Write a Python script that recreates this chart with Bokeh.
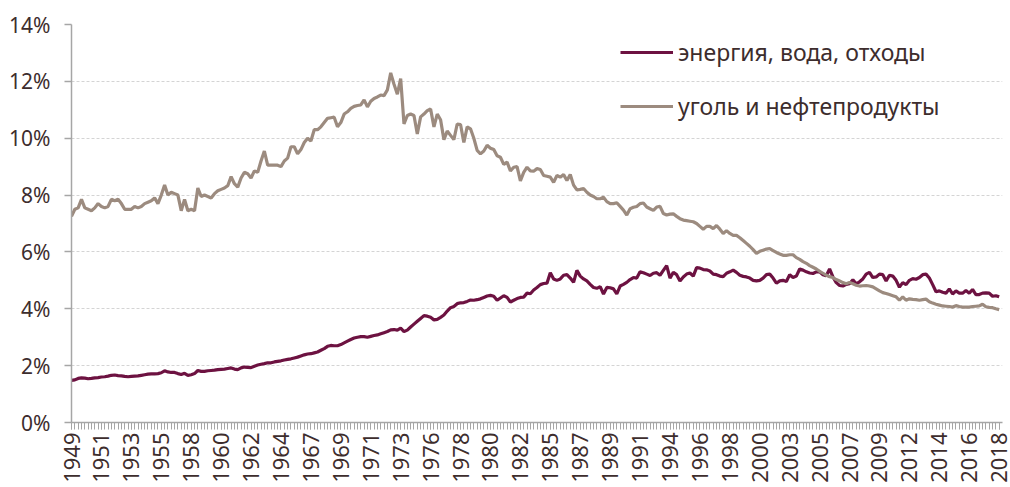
import math
from bokeh.plotting import figure
from bokeh.models import Range1d, FixedTicker, Legend, LegendItem
from bokeh.embed import file_html
from bokeh.resources import INLINE

# Quarterly data, 1949Q1 .. 2018Q4 (share, %)
energy_water_waste = [
    1.48, 1.5, 1.55, 1.57, 1.56, 1.54, 1.55, 1.57, 1.58, 1.6,
    1.61, 1.63, 1.66, 1.67, 1.65, 1.64, 1.62, 1.61, 1.62, 1.63,
    1.64, 1.66, 1.68, 1.7, 1.71, 1.71, 1.72, 1.75, 1.82, 1.78,
    1.76, 1.76, 1.72, 1.69, 1.73, 1.66, 1.68, 1.72, 1.83, 1.8,
    1.8, 1.82, 1.83, 1.84, 1.86, 1.87, 1.88, 1.9, 1.92, 1.88,
    1.86, 1.92, 1.95, 1.94, 1.93, 1.98, 2.02, 2.05, 2.07, 2.1,
    2.1, 2.13, 2.15, 2.17, 2.2, 2.22, 2.24, 2.27, 2.3, 2.34,
    2.38, 2.41, 2.42, 2.45, 2.48, 2.54, 2.6, 2.68, 2.71, 2.7,
    2.7, 2.74, 2.8, 2.86, 2.92, 2.97, 3.0, 3.02, 3.02, 3.0,
    3.03, 3.06, 3.08, 3.12, 3.16, 3.2, 3.26, 3.27, 3.25, 3.32,
    3.2, 3.25, 3.36, 3.46, 3.56, 3.66, 3.76, 3.74, 3.7, 3.61,
    3.63, 3.7, 3.78, 3.92, 4.04, 4.08, 4.18, 4.21, 4.22, 4.26,
    4.31, 4.3, 4.32, 4.35, 4.4, 4.45, 4.47, 4.44, 4.3, 4.38,
    4.46, 4.4, 4.24, 4.3, 4.36, 4.4, 4.41, 4.55, 4.53, 4.66,
    4.75, 4.85, 4.89, 4.9, 5.27, 5.05, 5.0, 5.05, 5.18, 5.2,
    5.08, 4.93, 5.35, 5.15, 5.05, 4.98, 4.86, 4.75, 4.72, 4.78,
    4.52, 4.75, 4.74, 4.7, 4.52, 4.8, 4.86, 4.93, 5.03, 5.1,
    5.08, 5.3, 5.27, 5.22, 5.17, 5.25, 5.27, 5.18, 5.35, 5.52,
    5.08, 5.28, 5.2, 4.98, 5.12, 5.22, 5.26, 5.15, 5.45, 5.43,
    5.38, 5.37, 5.33, 5.22, 5.2, 5.15, 5.13, 5.25, 5.3, 5.36,
    5.28, 5.18, 5.14, 5.12, 5.08, 5.0, 4.98, 5.0, 5.08, 5.2,
    5.22, 5.08, 4.9, 4.98, 5.0, 4.96, 5.2, 5.1, 5.15, 5.4,
    5.36, 5.3, 5.26, 5.24, 5.3, 5.3, 5.2, 5.16, 5.4, 5.12,
    4.92, 4.82, 4.8, 4.86, 4.88, 5.02, 4.88, 4.95, 5.05, 5.22,
    5.28, 5.1, 5.12, 5.22, 5.2, 4.98, 5.18, 5.15, 5.0, 4.76,
    4.92, 4.85, 5.0, 5.06, 5.04, 5.1, 5.2, 5.22, 5.08, 4.85,
    4.6, 4.63, 4.58, 4.55, 4.7, 4.52, 4.63, 4.55, 4.55, 4.64,
    4.55, 4.68, 4.5, 4.5, 4.55, 4.56, 4.55, 4.44, 4.46, 4.42,
]

coal_petroleum = [
    7.25, 7.5, 7.55, 7.85, 7.55, 7.5, 7.45, 7.55, 7.7, 7.6,
    7.55, 7.6, 7.85, 7.8, 7.85, 7.7, 7.5, 7.5, 7.5, 7.6,
    7.55, 7.6, 7.7, 7.75, 7.8, 7.9, 7.7, 8.0, 8.35, 8.0,
    8.1, 8.05, 8.0, 7.45, 7.85, 7.45, 7.5, 7.45, 8.25, 7.95,
    8.0, 7.95, 7.9, 8.05, 8.15, 8.2, 8.25, 8.33, 8.65, 8.4,
    8.28, 8.6, 8.8, 8.75, 8.6, 8.85, 8.8, 9.2, 9.55, 9.05,
    9.05, 9.05, 9.05, 9.0, 9.2, 9.3, 9.7, 9.7, 9.45, 9.6,
    9.85, 10.0, 9.9, 10.3, 10.3, 10.4, 10.55, 10.7, 10.72, 10.74,
    10.4, 10.55, 10.85, 10.93, 11.05, 11.12, 11.15, 11.17, 11.35, 11.1,
    11.3, 11.4, 11.45, 11.52, 11.5, 11.7, 12.3, 11.9, 11.55, 12.1,
    10.5, 10.8, 10.85, 10.8, 10.15, 10.75, 10.85, 10.97, 11.03, 10.4,
    10.85, 10.65, 9.95, 10.25, 10.1, 9.95, 10.5, 10.48, 9.85, 10.4,
    10.33, 10.0, 9.57, 9.45, 9.55, 9.75, 9.65, 9.6, 9.38, 9.33,
    9.08, 9.16, 8.85, 8.98, 9.0, 8.5, 8.8, 8.98, 8.85, 8.84,
    8.93, 8.9, 8.69, 8.66, 8.63, 8.45, 8.69, 8.63, 8.72, 8.51,
    8.72, 8.35, 8.18, 8.2, 8.23, 8.1, 8.0, 7.95, 7.87, 7.87,
    7.92, 7.77, 7.7, 7.7, 7.73, 7.6, 7.47, 7.3, 7.52, 7.57,
    7.6, 7.7, 7.72, 7.58, 7.52, 7.46, 7.58, 7.6, 7.35, 7.3,
    7.33, 7.34, 7.25, 7.17, 7.12, 7.1, 7.08, 7.06, 7.0, 6.9,
    6.8, 6.9, 6.9, 6.82, 6.93, 6.8, 6.65, 6.75, 6.65, 6.58,
    6.58, 6.5, 6.4, 6.3, 6.2, 6.08, 5.95, 6.02, 6.06, 6.1,
    6.12, 6.05, 5.98, 5.93, 5.88, 5.88, 5.9, 5.9, 5.8, 5.74,
    5.66, 5.6, 5.52, 5.46, 5.4, 5.32, 5.25, 5.18, 5.13, 5.1,
    5.03, 4.98, 4.92, 4.88, 4.93, 4.88, 4.83, 4.8, 4.81, 4.82,
    4.8, 4.77, 4.7, 4.63, 4.57, 4.54, 4.5, 4.46, 4.42, 4.3,
    4.42, 4.3, 4.35, 4.33, 4.32, 4.3, 4.32, 4.34, 4.25, 4.2,
    4.16, 4.13, 4.1, 4.09, 4.08, 4.06, 4.11, 4.08, 4.06, 4.06,
    4.06, 4.08, 4.09, 4.1, 4.16, 4.07, 4.05, 4.04, 4.0, 3.97,
]

series_names = ["энергия, вода, отходы", "уголь и нефтепродукты"]

# every 9th quarter carries a year label
tick_years = ["1949", "1951", "1953", "1955", "1958", "1960", "1962", "1964",
              "1967", "1969", "1971", "1973", "1976", "1978", "1980", "1982",
              "1985", "1987", "1989", "1991", "1994", "1996", "1998", "2000",
              "2003", "2005", "2007", "2009", "2012", "2014", "2016", "2018"]
y_ticks = [0, 2, 4, 6, 8, 10, 12, 14]
y_tick_labels = ["0%", "2%", "4%", "6%", "8%", "10%", "12%", "14%"]

quarters = list(range(len(coal_petroleum)))
label_step = 9
tick_positions = [k * label_step for k in range(len(tick_years))]

FONT = "Noto Sans"
TEXT = "#3d2d2d"
AXIS = "#a6a6a6"
PURPLE = "#6d1241"
GREY = "#9c8b7f"

p = figure(frame_width=931, frame_height=398,
           x_range=Range1d(0, len(quarters)), y_range=Range1d(0, 14),
           output_backend="svg", toolbar_location=None,
           min_border_left=71, min_border_right=7,
           min_border_top=24, min_border_bottom=10)
p.outline_line_color = None
p.background_fill_color = "white"
p.border_fill_color = "white"

# grid
p.xgrid.visible = False
p.ygrid.ticker = FixedTicker(ticks=y_ticks)
p.ygrid.grid_line_color = "#d4d4d4"
p.ygrid.grid_line_dash = "3 2"
p.ygrid.grid_line_width = 1

# y axis
p.yaxis.ticker = FixedTicker(ticks=y_ticks)
p.yaxis.major_label_overrides = {t: l for t, l in zip(y_ticks, y_tick_labels)}
p.yaxis.axis_line_color = AXIS
p.yaxis.axis_line_width = 1.5
p.yaxis.major_tick_line_color = AXIS
p.yaxis.major_tick_line_width = 1.5
p.yaxis.major_tick_out = 7
p.yaxis.major_tick_in = 0
p.yaxis.minor_tick_line_color = None
p.yaxis.major_label_standoff = 14
p.yaxis.major_label_text_font = FONT
p.yaxis.major_label_text_font_size = "21px"
p.yaxis.major_label_text_color = TEXT

# x axis
p.xaxis.ticker = FixedTicker(ticks=tick_positions, minor_ticks=quarters)
p.xaxis.major_label_overrides = {t: l for t, l in zip(tick_positions, tick_years)}
p.xaxis.major_label_orientation = math.pi / 2
p.xaxis.axis_line_color = AXIS
p.xaxis.axis_line_width = 1.5
p.xaxis.major_tick_line_color = AXIS
p.xaxis.minor_tick_line_color = AXIS
p.xaxis.major_tick_out = 7
p.xaxis.major_tick_in = 0
p.xaxis.minor_tick_out = 7
p.xaxis.minor_tick_in = 0
p.xaxis.major_label_standoff = 3
p.xaxis.major_label_text_font = FONT
p.xaxis.major_label_text_font_size = "22px"
p.xaxis.major_label_text_color = TEXT

r1 = p.line(quarters, energy_water_waste, line_color=PURPLE, line_width=3.2)
r2 = p.line(quarters, coal_petroleum, line_color=GREY, line_width=3.2)

legend = Legend(items=[LegendItem(label=series_names[0], renderers=[r1]),
                       LegendItem(label=series_names[1], renderers=[r2])],
                location=(549, 300), glyph_width=53, glyph_height=20,
                label_height=20, label_standoff=5, spacing=22,
                padding=0, margin=0, border_line_alpha=0,
                background_fill_alpha=0,
                label_text_font=FONT, label_text_font_size="23px",
                label_text_color=TEXT)
p.add_layout(legend)

open("out.html", "w").write(file_html(p, INLINE))
